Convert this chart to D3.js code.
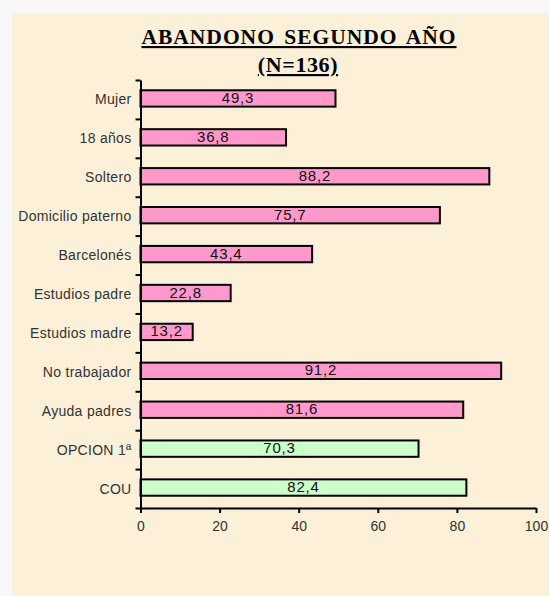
<!DOCTYPE html>
<html>
<head>
  <meta charset="utf-8">
  <script src="https://cdnjs.cloudflare.com/ajax/libs/d3/7.8.5/d3.min.js"></script>
  <title>Abandono segundo año</title>
  <style>
    body { margin: 0; background: #f7f7f7; }
    .cat { font: 14px "Liberation Sans", Arial, sans-serif; fill: #333; letter-spacing: 0.3px; }
    .val { font: 15px "Liberation Sans", Arial, sans-serif; fill: #111; letter-spacing: 0.8px; }
    .tick text { font: 14px "Liberation Sans", Arial, sans-serif; fill: #333; }
  </style>
</head>
<body>
<script>
// data
const categories = ["Mujer", "18 años", "Soltero", "Domicilio paterno", "Barcelonés",
  "Estudios padre", "Estudios madre", "No trabajador", "Ayuda padres", "OPCION 1ª", "COU"];
const values = [49.3, 36.8, 88.2, 75.7, 43.4, 22.8, 13.2, 91.2, 81.6, 70.3, 82.4];
const groups = ["p", "p", "p", "p", "p", "p", "p", "p", "p", "g", "g"];
const xTicks = [0, 20, 40, 60, 80, 100];

const colors = { p: "#ff99cc", g: "#ccffcc" };

const svg = d3.select("body").append("svg")
    .attr("width", 549)
    .attr("height", 596)
    .style("display", "block");

// parchment panel
svg.append("rect")
    .attr("x", 12).attr("y", 13)
    .attr("width", 537).attr("height", 583)
    .attr("fill", "#fcf0d9");

const plot = { left: 140.5, right: 536, top: 80, bottom: 508 };

const x = d3.scaleLinear().domain([0, 100]).range([plot.left, plot.right]);
const y = d3.scaleBand()
    .domain(categories)
    .range([plot.top, plot.bottom])
    .paddingInner(0.58)
    .paddingOuter(0.29);

// title
const title = svg.append("g").attr("font-family", "'Liberation Serif', 'Times New Roman', serif")
    .attr("font-weight", "bold").attr("text-anchor", "middle").attr("fill", "#000");
title.append("text").attr("x", 299).attr("y", 44).attr("font-size", 21.5)
    .attr("letter-spacing", "1px").attr("word-spacing", "3px").attr("text-decoration", "underline")
    .text("ABANDONO SEGUNDO AÑO");
title.append("text").attr("x", 298).attr("y", 72).attr("font-size", 22)
    .attr("letter-spacing", "0.6px").attr("text-decoration", "underline")
    .text("(N=136)");

// bars
svg.selectAll("rect.bar")
    .data(categories)
    .enter().append("rect")
    .attr("class", "bar")
    .attr("x", x(0))
    .attr("y", d => y(d) - 1)
    .attr("width", (d, i) => x(values[i]) - x(0))
    .attr("height", y.bandwidth())
    .attr("fill", (d, i) => colors[groups[i]])
    .attr("stroke", "#000")
    .attr("stroke-width", 2);

svg.selectAll("text.val")
    .data(categories)
    .enter().append("text")
    .attr("class", "val")
    .attr("x", (d, i) => (x(0) + x(values[i])) / 2)
    .attr("y", d => y(d) + y.bandwidth() / 2 + 3.5)
    .attr("text-anchor", "middle")
    .text((d, i) => String(values[i]).replace(".", ","));

// category labels
svg.selectAll("text.cat")
    .data(categories)
    .enter().append("text")
    .attr("class", "cat")
    .attr("x", plot.left - 9)
    .attr("y", d => y(d) + y.bandwidth() / 2 + 5)
    .attr("text-anchor", "end")
    .text(d => d);

// y axis: ticks at band boundaries
const yIdx = d3.scaleLinear().domain([0, categories.length]).range([plot.top, plot.bottom]);
svg.append("g")
    .attr("transform", "translate(" + plot.left + ",0)")
    .call(d3.axisLeft(yIdx).tickValues(d3.range(categories.length + 1))
      .tickFormat("").tickSize(5).tickSizeOuter(0))
    .call(g => g.selectAll("line, path").attr("stroke", "#000").attr("stroke-width", 2));

// x axis
svg.append("g")
    .attr("transform", "translate(0," + plot.bottom + ")")
    .call(d3.axisBottom(x).tickValues(xTicks).tickSize(5).tickSizeOuter(0).tickPadding(8))
    .call(g => g.selectAll("line, path").attr("stroke", "#000").attr("stroke-width", 2));
</script>
</body>
</html>
